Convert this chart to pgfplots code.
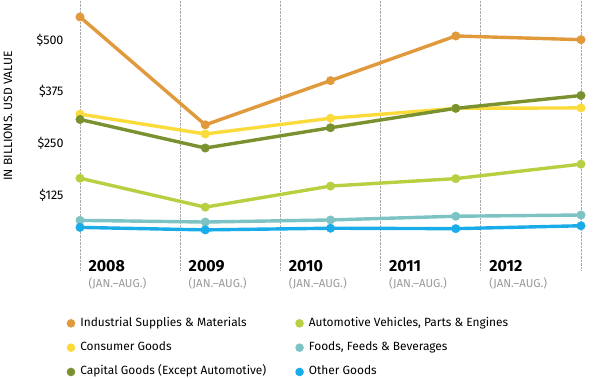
\documentclass[border=0pt]{standalone}
\usepackage{pgfplots}
\pgfplotsset{compat=1.18}
\usepackage{fontspec}
\setmainfont{Fira Sans}
\definecolor{cInd}{HTML}{E0993B}
\definecolor{cCon}{HTML}{FBDB3A}
\definecolor{cCap}{HTML}{7A9130}
\definecolor{cAut}{HTML}{B8CF42}
\definecolor{cFoo}{HTML}{7DC3C4}
\definecolor{cOth}{HTML}{19ACE8}
\definecolor{lgray}{HTML}{9A9A9A}
\definecolor{ggray}{HTML}{AAAAAA}
\begin{document}
\begin{tikzpicture}
\path[use as bounding box] (0,0) rectangle (601pt,379pt);
\begin{axis}[
  at={(80pt,109pt)}, anchor=south west,
  scale only axis, width=501pt, height=270pt,
  xmin=0, xmax=4, ymin=-56, ymax=597,
  clip=false,
  axis line style={draw=none},
  major tick length=0pt,
  xtick={0,0.8,1.6,2.4,3.2,4},
  xticklabels={
    {{\fontsize{16}{16}\selectfont\bfseries 2008}\\[2.5pt]{\color{lgray}(JAN.–AUG.)}},
    {{\fontsize{16}{16}\selectfont\bfseries 2009}\\[2.5pt]{\color{lgray}(JAN.–AUG.)}},
    {{\fontsize{16}{16}\selectfont\bfseries 2010}\\[2.5pt]{\color{lgray}(JAN.–AUG.)}},
    {{\fontsize{16}{16}\selectfont\bfseries 2011}\\[2.5pt]{\color{lgray}(JAN.–AUG.)}},
    {{\fontsize{16}{16}\selectfont\bfseries 2012}\\[2.5pt]{\color{lgray}(JAN.–AUG.)}},
    {}},
  xticklabel style={align=left, anchor=north west, xshift=5pt, yshift=13pt,
    font=\fontsize{11.5}{13}\selectfont},
  xmajorgrids,
  major grid style={densely dotted, ggray, line width=0.9pt},
  ytick={125,250,375,500},
  yticklabels={\$125,\$250,\$375,\$500},
  yticklabel style={font=\fontsize{12.5}{14}\selectfont, anchor=east, xshift=-13pt},
  ylabel={IN BILLIONS. USD VALUE},
  ylabel style={font=\fontsize{12}{13}\selectfont, at={(axis description cs:-0.1437,0.57)}, rotate=0, anchor=center},
  every axis plot/.append style={line width=3.4pt, mark=*, mark size=4.3pt, mark options={line width=0.3pt}},
  legend image code/.code={\fill[#1, draw=none] (0pt,0pt) circle (4.3pt);},
  legend columns=2,
  legend cell align=left,
  legend style={at={(axis description cs:-0.027,-0.170)}, anchor=north west,
    draw=none, fill=none, inner sep=0pt,
    font=\fontsize{11.9}{13}\selectfont,
    nodes={text height=8pt, text depth=2.5pt, inner xsep=3pt},
    row sep=9.8pt,
    /tikz/every even column/.append style={column sep=26pt},
    /tikz/every odd column/.append style={column sep=2pt}},
]
\addplot[color=cInd] coordinates {(0,556) (1,295) (2,402) (3,510) (4,501)};
\addlegendentry{Industrial Supplies \& Materials}
\addplot[color=cAut] coordinates {(0,166) (1,96) (2,147) (3,165) (4,200)};
\addlegendentry{Automotive Vehicles, Parts \& Engines}
\addplot[color=cCon] coordinates {(0,321) (1,273) (2,311) (3,335) (4,336)};
\addlegendentry{Consumer Goods}
\addplot[color=cFoo] coordinates {(0,64) (1,60) (2,65) (3,74) (4,77)};
\addlegendentry{Foods, Feeds \& Beverages}
\addplot[color=cCap] coordinates {(0,308) (1,239) (2,288) (3,335) (4,366)};
\addlegendentry{Capital Goods (Except Automotive)}
\addplot[color=cOth] coordinates {(0,47) (1,41) (2,45) (3,44) (4,51)};
\addlegendentry{Other Goods}
\end{axis}
\end{tikzpicture}
\end{document}
